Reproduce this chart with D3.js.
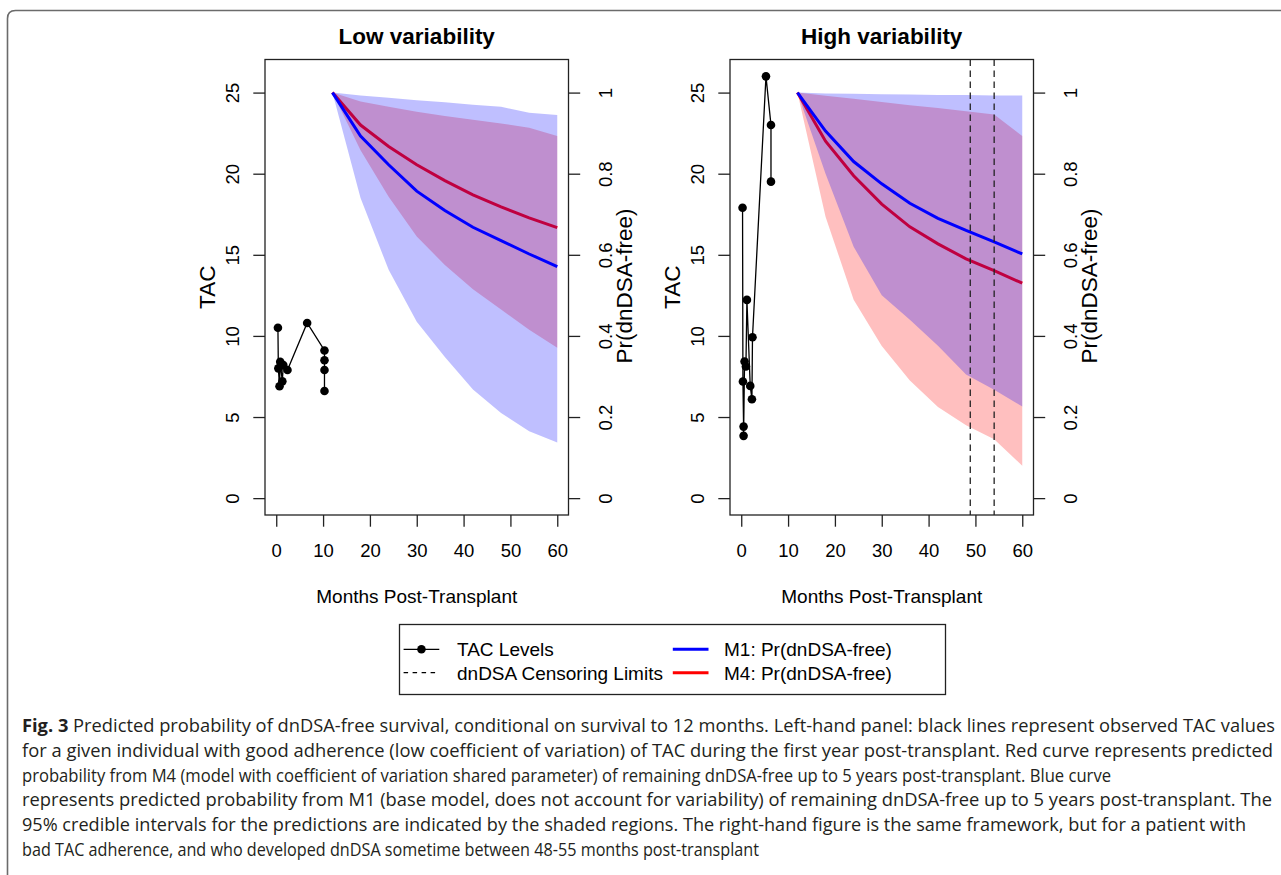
<!DOCTYPE html>
<html>
<head>
<meta charset="utf-8">
<script src="https://cdn.jsdelivr.net/npm/d3@7"></script>
<style>
  body { margin: 0; background: #fff; }
  svg { display: block; }
  text { font-family: "Liberation Sans", Arial, Helvetica, sans-serif; }
</style>
</head>
<body>
<svg id="fig" width="1281" height="875"></svg>
<script>
// months at which the survival predictions were made
var predMonths = [12, 18, 24, 30, 36, 42, 48, 54, 60];

// low variability patient: observed TAC
var lowTacMonths = [0.36, 0.45, 0.7, 0.85, 1.3, 1.5, 2.4, 6.6, 10.3, 10.3, 10.3, 10.3];
var lowTacValues = [10.5, 8.0, 6.9, 8.4, 7.2, 8.2, 7.9, 10.8, 9.1, 8.5, 7.9, 6.6];
// low variability patient: Pr(dnDSA-free)
var lowM1 = [1, 0.893, 0.822, 0.757, 0.709, 0.668, 0.635, 0.602, 0.571];
var lowM1Lower = [1, 0.74, 0.563, 0.435, 0.348, 0.268, 0.21, 0.165, 0.137];
var lowM1Upper = [1, 0.993, 0.987, 0.981, 0.976, 0.970, 0.965, 0.950, 0.945];
var lowM4 = [1, 0.92, 0.867, 0.822, 0.783, 0.748, 0.718, 0.691, 0.667];
var lowM4Lower = [1, 0.858, 0.743, 0.645, 0.575, 0.515, 0.465, 0.415, 0.371];
var lowM4Upper = [1, 0.978, 0.965, 0.953, 0.942, 0.933, 0.924, 0.913, 0.893];

// high variability patient: observed TAC
var highTacMonths = [0.28, 0.36, 0.5, 0.5, 0.71, 1.0, 1.21, 1.92, 2.28, 2.4, 5.28, 6.35, 6.35];
var highTacValues = [17.9, 7.19, 4.41, 3.84, 8.42, 8.11, 12.22, 6.92, 6.1, 9.92, 26.0, 23.0, 19.51];
// high variability patient: Pr(dnDSA-free)
var highM1 = [1, 0.905, 0.83, 0.775, 0.727, 0.69, 0.66, 0.632, 0.602];
var highM1Lower = [1, 0.80, 0.62, 0.50, 0.44, 0.376, 0.305, 0.267, 0.226];
var highM1Upper = [1, 0.998, 0.997, 0.996, 0.995, 0.994, 0.994, 0.993, 0.993];
var highM4 = [1, 0.88, 0.795, 0.725, 0.669, 0.627, 0.59, 0.561, 0.53];
var highM4Lower = [1, 0.694, 0.489, 0.375, 0.29, 0.225, 0.18, 0.145, 0.08];
var highM4Upper = [1, 0.992, 0.985, 0.977, 0.969, 0.962, 0.954, 0.946, 0.893];

// dnDSA censoring limits (months), high variability patient only
var censorMonths = [48.9, 54];

// axis ticks
var monthTicks = [0, 10, 20, 30, 40, 50, 60];
var tacTicks = [0, 5, 10, 15, 20, 25];
var probTicks = [0, 0.2, 0.4, 0.6, 0.8, 1];

var panelTitles = ['Low variability', 'High variability'];
var legendLabels = ['TAC Levels', 'dnDSA Censoring Limits', 'M1: Pr(dnDSA-free)', 'M4: Pr(dnDSA-free)'];

var captionLines = [
  'Predicted probability of dnDSA-free survival, conditional on survival to 12 months. Left-hand panel: black lines represent observed TAC values',
  'for a given individual with good adherence (low coefficient of variation) of TAC during the first year post-transplant. Red curve represents predicted',
  'probability from M4 (model with coefficient of variation shared parameter) of remaining dnDSA-free up to 5 years post-transplant. Blue curve',
  'represents predicted probability from M1 (base model, does not account for variability) of remaining dnDSA-free up to 5 years post-transplant. The',
  '95% credible intervals for the predictions are indicated by the shaded regions. The right-hand figure is the same framework, but for a patient with',
  'bad TAC adherence, and who developed dnDSA sometime between 48-55 months post-transplant'
];
// right end of each caption line in the page
var captionEnds = [1275, 1273, 1111, 1272, 1246, 759];

var panels = [
  { title: panelTitles[0], tacM: lowTacMonths, tacV: lowTacValues,
    m1: lowM1, m1Lo: lowM1Lower, m1Hi: lowM1Upper,
    m4: lowM4, m4Lo: lowM4Lower, m4Hi: lowM4Upper, censor: [] },
  { title: panelTitles[1], tacM: highTacMonths, tacV: highTacValues,
    m1: highM1, m1Lo: highM1Lower, m1Hi: highM1Upper,
    m4: highM4, m4Lo: highM4Lower, m4Hi: highM4Upper, censor: censorMonths }
];

var svg = d3.select('#fig');
var ink = '#222';
var box = { left: 265, right: 568.5, top: 59.5, bottom: 515 };
var panelShift = 465;

// outer frame of the figure (only top and left edge visible)
svg.append('path')
  .attr('d', 'M7.5,875 V18.5 Q7.5,10.5 15.5,10.5 H1281')
  .attr('fill', 'none')
  .attr('stroke', '#6b6b6b')
  .attr('stroke-width', 1.6);

function rows(est, lo, hi) {
  return predMonths.map(function (m, k) {
    return { m: m, p: est[k], lo: lo[k], hi: hi[k] };
  });
}

function drawPanel(p, i) {
  var g = svg.append('g').attr('transform', 'translate(' + (i * panelShift) + ',0)');

  var x = d3.scaleLinear().domain([-2.4, 62.4]).range([box.left, box.right]);
  var y = d3.scaleLinear().domain([-1.04, 27.04]).range([box.bottom, box.top]);
  var yProb = d3.scaleLinear().domain([0, 1]).range([y(0), y(25)]);

  var band = d3.area()
    .x(function (d) { return x(d.m); })
    .y0(function (d) { return yProb(d.lo); })
    .y1(function (d) { return yProb(d.hi); });
  var curve = d3.line()
    .x(function (d) { return x(d.m); })
    .y(function (d) { return yProb(d.p); });

  var m4 = rows(p.m4, p.m4Lo, p.m4Hi);
  var m1 = rows(p.m1, p.m1Lo, p.m1Hi);

  // M4 first, then M1 over it (gives the purple overlap and the darker red line)
  g.append('path').datum(m4).attr('d', band)
    .attr('fill', '#ff0000').attr('fill-opacity', 0.25);
  g.append('path').datum(m4).attr('d', curve)
    .attr('fill', 'none').attr('stroke', '#ff0000').attr('stroke-width', 3);
  g.append('path').datum(m1).attr('d', band)
    .attr('fill', '#0000ff').attr('fill-opacity', 0.25);
  g.append('path').datum(m1).attr('d', curve)
    .attr('fill', 'none').attr('stroke', '#0000ff').attr('stroke-width', 3);

  // observed TAC levels
  var tac = p.tacM.map(function (m, k) { return { m: m, v: p.tacV[k] }; });
  g.append('path').datum(tac)
    .attr('d', d3.line().x(function (d) { return x(d.m); }).y(function (d) { return y(d.v); }))
    .attr('fill', 'none').attr('stroke', '#000').attr('stroke-width', 1.3);
  g.selectAll('.tac-pt').data(tac).enter()
    .append('circle')
    .attr('class', 'tac-pt')
    .attr('cx', function (d) { return x(d.m); })
    .attr('cy', function (d) { return y(d.v); })
    .attr('r', 4.3)
    .attr('fill', '#000');

  // censoring limits
  g.selectAll('.censor').data(p.censor).enter()
    .append('line')
    .attr('class', 'censor')
    .attr('x1', function (d) { return x(d); })
    .attr('x2', function (d) { return x(d); })
    .attr('y1', box.top)
    .attr('y2', box.bottom)
    .attr('stroke', ink)
    .attr('stroke-width', 1.3)
    .attr('stroke-dasharray', '6.5,4.5');

  // plot box
  g.append('rect')
    .attr('x', box.left).attr('y', box.top)
    .attr('width', box.right - box.left).attr('height', box.bottom - box.top)
    .attr('fill', 'none').attr('stroke', ink).attr('stroke-width', 1.3);

  // axes
  var gx = g.append('g')
    .attr('transform', 'translate(0,' + box.bottom + ')')
    .call(d3.axisBottom(x).tickValues(monthTicks).tickSize(11.7).tickSizeOuter(0));
  gx.selectAll('text').attr('y', 42).attr('dy', null);

  var gy = g.append('g')
    .attr('transform', 'translate(' + box.left + ',0)')
    .call(d3.axisLeft(y).tickValues(tacTicks).tickSize(11.7).tickSizeOuter(0));
  gy.selectAll('text')
    .attr('transform', 'rotate(-90)')
    .attr('x', 0).attr('y', -26.3).attr('dy', null)
    .attr('text-anchor', 'middle');

  var gr = g.append('g')
    .attr('transform', 'translate(' + box.right + ',0)')
    .call(d3.axisRight(yProb).tickValues(probTicks).tickFormat(String).tickSize(11.7).tickSizeOuter(0));
  gr.selectAll('text')
    .attr('transform', 'rotate(-90)')
    .attr('x', 0).attr('y', 43).attr('dy', null)
    .attr('text-anchor', 'middle');

  [gx, gy, gr].forEach(function (a) {
    a.attr('font-family', null).attr('font-size', null);
    a.select('.domain').remove();
    a.selectAll('line').attr('stroke', ink).attr('stroke-width', 1.3);
    a.selectAll('text').attr('font-size', 18.5).attr('fill', '#000');
  });

  // titles and axis labels
  var cx = (box.left + box.right) / 2;
  g.append('text')
    .attr('x', cx).attr('y', 43.5)
    .attr('text-anchor', 'middle')
    .attr('font-weight', 'bold')
    .attr('font-size', 22.5)
    .text(p.title);
  g.append('text')
    .attr('x', cx).attr('y', 603)
    .attr('text-anchor', 'middle')
    .attr('font-size', 19)
    .text('Months Post-Transplant');
  g.append('text')
    .attr('transform', 'translate(214.6,' + ((box.top + box.bottom) / 2) + ') rotate(-90)')
    .attr('text-anchor', 'middle')
    .attr('font-size', 22.5)
    .text('TAC');
  g.append('text')
    .attr('transform', 'translate(632,286) rotate(-90)')
    .attr('text-anchor', 'middle')
    .attr('font-size', 22.5)
    .text('Pr(dnDSA-free)');
}

panels.forEach(drawPanel);

// legend
var lg = svg.append('g');
lg.append('rect')
  .attr('x', 399.5).attr('y', 624.5).attr('width', 546).attr('height', 70)
  .attr('fill', 'none').attr('stroke', ink).attr('stroke-width', 1.3);
var rowY = [649.3, 672.7];
var keyX = [[403.6, 439.3, 457], [672.8, 708.5, 724]];
var keys = [
  { col: 0, row: 0, stroke: '#000', w: 1.3, dash: null, dot: true },
  { col: 0, row: 1, stroke: '#000', w: 1.3, dash: '4.5,4.5', dot: false },
  { col: 1, row: 0, stroke: '#0000ff', w: 3, dash: null, dot: false },
  { col: 1, row: 1, stroke: '#ff0000', w: 3, dash: null, dot: false }
];
keys.forEach(function (k, i) {
  var c = keyX[k.col], yy = rowY[k.row];
  lg.append('line')
    .attr('x1', c[0]).attr('x2', c[1]).attr('y1', yy).attr('y2', yy)
    .attr('stroke', k.stroke).attr('stroke-width', k.w)
    .attr('stroke-dasharray', k.dash);
  if (k.dot) {
    lg.append('circle').attr('cx', (c[0] + c[1]) / 2).attr('cy', yy).attr('r', 4.3).attr('fill', '#000');
  }
  lg.append('text')
    .attr('x', c[2]).attr('y', yy + 6.8)
    .attr('font-size', 19)
    .text(legendLabels[i]);
});

// caption, each line squeezed to the width it has in the figure
var cap = svg.append('g')
  .attr('font-size', 17.5)
  .attr('fill', '#231f20');
captionLines.forEach(function (s, i) {
  var t = cap.append('text')
    .attr('x', 22)
    .attr('y', 732 + i * 24.8)
    .style('font-family', '"Open Sans", "Noto Sans", sans-serif');
  if (i === 0) {
    t.append('tspan').attr('font-weight', 'bold').text('Fig. 3');
    t.append('tspan').text(' ' + s);
  } else {
    t.text(s);
  }
  t.attr('textLength', captionEnds[i] - 22).attr('lengthAdjust', 'spacingAndGlyphs');
});
</script>
</body>
</html>
